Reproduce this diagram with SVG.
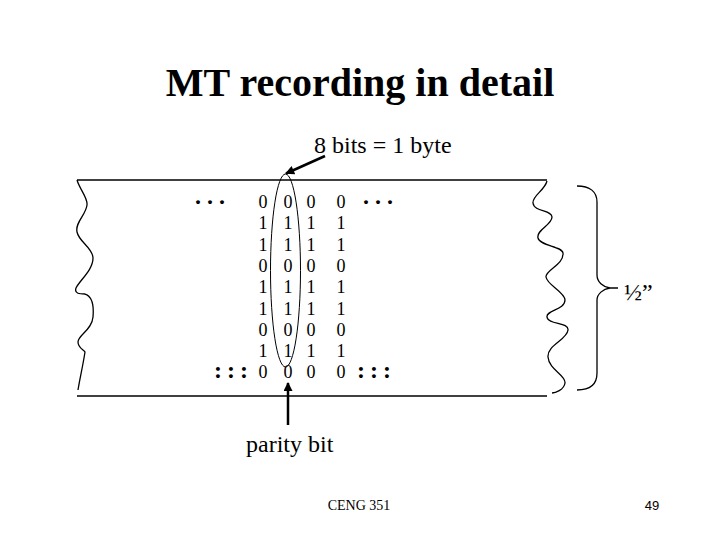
<svg xmlns="http://www.w3.org/2000/svg" width="720" height="540" viewBox="0 0 720 540">
<defs>
<style>
.t{font-family:"Liberation Serif","Times New Roman",serif;fill:#000}
.ln{stroke:#000;stroke-width:1.3;fill:none}
.bit{font-family:"Liberation Serif","Times New Roman",serif;font-size:18px;text-anchor:middle;fill:#000}
.dots{font-family:"Liberation Serif","Times New Roman",serif;font-size:24px;font-weight:bold;fill:#000}
</style>
<marker id="ah" viewBox="0 0 10 10" refX="9" refY="5" markerWidth="4" markerHeight="3.6" orient="auto" markerUnits="strokeWidth">
<path d="M0,0 L10,5 L0,10 z" fill="#000"/>
</marker>
</defs>
<rect width="720" height="540" fill="#fff"/>
<text id="title" class="t" x="360" y="96" font-size="40" font-weight="bold" text-anchor="middle">MT recording in detail</text>

<g id="tape">
<line class="ln" x1="77" y1="180" x2="547" y2="180"/>
<line class="ln" x1="77" y1="396" x2="547" y2="396"/>
<path class="ln" d="M77,180 C80,190 88,198 87,205 C86,215 75,222 77,232 C79,242 93,248 93,258 C93,270 80,280 76,288 C74,294 80,294 85,294 C92,296 94,305 93,317 C92,330 78,335 78,342 C78,348 84,350 85,352 C83,365 80,378 78,390"/>
<path class="ln" d="M547,181 C545,190 532,196 533,203 C534,212 552,210 552,217 C552,225 536,230 538,238 C540,246 562,246 563,253 C564,265 545,270 546,277 C547,285 565,292 565,300 C565,310 546,310 547,317 C548,325 569,322 568,330 C567,340 547,345 548,357 C549,370 566,375 565,383 C564,390 555,393 552,393"/>
</g>

<g id="bits">
<g id="col1">
<text class="bit" x="263" y="208">0</text><text class="bit" x="263" y="229.3">1</text><text class="bit" x="263" y="250.6">1</text><text class="bit" x="263" y="271.9">0</text><text class="bit" x="263" y="293.2">1</text><text class="bit" x="263" y="314.5">1</text><text class="bit" x="263" y="335.8">0</text><text class="bit" x="263" y="357.1">1</text><text class="bit" x="263" y="378.4">0</text>
</g>
<g id="col2">
<text class="bit" x="288" y="208">0</text><text class="bit" x="288" y="229.3">1</text><text class="bit" x="288" y="250.6">1</text><text class="bit" x="288" y="271.9">0</text><text class="bit" x="288" y="293.2">1</text><text class="bit" x="288" y="314.5">1</text><text class="bit" x="288" y="335.8">0</text><text class="bit" x="288" y="357.1">1</text><text class="bit" x="288" y="378.4">0</text>
</g>
<g id="col3">
<text class="bit" x="311" y="208">0</text><text class="bit" x="311" y="229.3">1</text><text class="bit" x="311" y="250.6">1</text><text class="bit" x="311" y="271.9">0</text><text class="bit" x="311" y="293.2">1</text><text class="bit" x="311" y="314.5">1</text><text class="bit" x="311" y="335.8">0</text><text class="bit" x="311" y="357.1">1</text><text class="bit" x="311" y="378.4">0</text>
</g>
<g id="col4">
<text class="bit" x="341" y="208">0</text><text class="bit" x="341" y="229.3">1</text><text class="bit" x="341" y="250.6">1</text><text class="bit" x="341" y="271.9">0</text><text class="bit" x="341" y="293.2">1</text><text class="bit" x="341" y="314.5">1</text><text class="bit" x="341" y="335.8">0</text><text class="bit" x="341" y="357.1">1</text><text class="bit" x="341" y="378.4">0</text>
</g>
</g>

<g id="ellipsis">
<text class="dots" x="195" y="204" letter-spacing="6">...</text>
<text class="dots" x="363" y="204" letter-spacing="6">...</text>
<text class="dots" x="214" y="378" letter-spacing="5">:::</text>
<text class="dots" x="357" y="378" letter-spacing="5">:::</text>
</g>

<g id="byte">
<ellipse cx="285.5" cy="270.5" rx="15" ry="96.5" fill="none" stroke="#000" stroke-width="1"/>
</g>

<g id="label-byte"><text class="t" x="314" y="153" font-size="24">8 bits = 1 byte</text></g>
<g id="label-parity"><text class="t" x="246" y="452" font-size="24">parity bit</text></g>

<g id="width">
<path class="ln" d="M577,186 C590,186 597,192 597,202 L597,275 C597,282 603,287 610,288 L618,288 M610,288 C603,289 597,294 597,300 L597,373 C597,384 590,390 577,390"/>
<text class="t" x="624" y="300" font-size="24">½”</text>
</g>

<g id="connectors">
<line x1="325" y1="156" x2="286" y2="173.5" stroke="#000" stroke-width="2.5" marker-end="url(#ah)"/>
<line x1="288" y1="425" x2="288" y2="383" stroke="#000" stroke-width="2.5" marker-end="url(#ah)"/>
</g>

<text class="t" x="359" y="510" font-size="14" text-anchor="middle">CENG 351</text>
<text x="652" y="510" font-size="13" text-anchor="middle" font-family="Liberation Sans, Arial, sans-serif">49</text>
</svg>
